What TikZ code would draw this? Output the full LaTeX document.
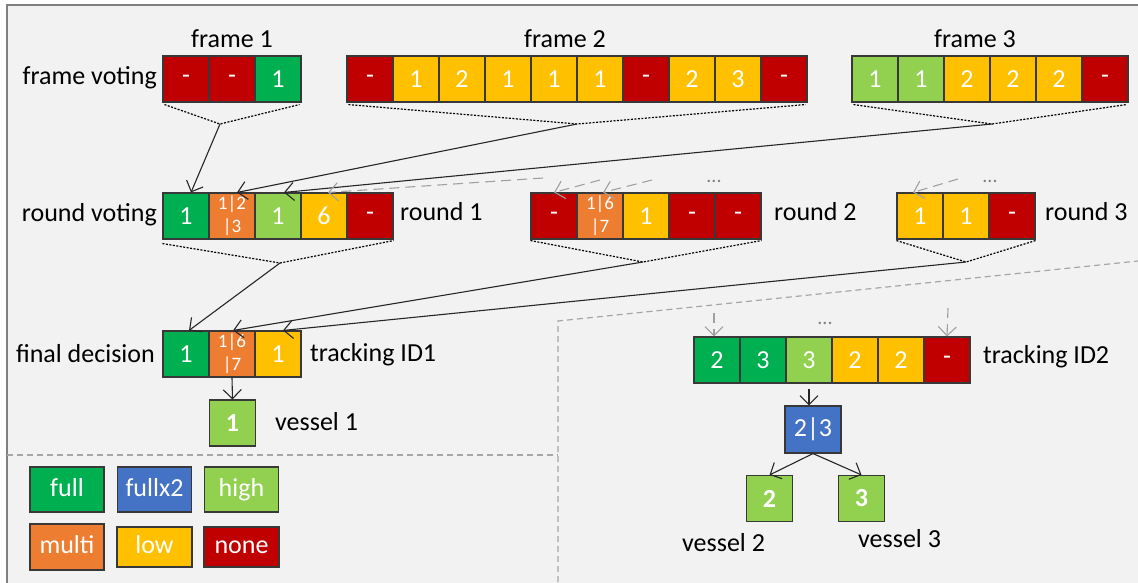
\documentclass[tikz,border=0pt]{standalone}
\usepackage{fontspec}
\setmainfont{Carlito}
\usetikzlibrary{arrows.meta,calc}
\definecolor{cfullc}{HTML}{00B050}
\definecolor{cfxc}{HTML}{4472C4}
\definecolor{chighc}{HTML}{92D050}
\definecolor{cmultic}{HTML}{ED7D31}
\definecolor{clowc}{HTML}{FFC000}
\definecolor{cnonec}{HTML}{C00000}
\definecolor{bgc}{HTML}{F2F2F2}
\definecolor{edgec}{HTML}{383838}
\definecolor{framec}{HTML}{808080}
\definecolor{linec}{HTML}{262626}
\definecolor{grayarr}{HTML}{A0A0A0}
\definecolor{sepc}{HTML}{A6A6A6}
\newcommand\mlt[2]{\fontsize{19}{23}\selectfont\begin{tabular}{@{}c@{}}#1\\#2\end{tabular}}
\begin{document}
\begin{tikzpicture}[x=1pt,y=-1pt,
  cell/.style={draw=edgec,line width=1.1pt,minimum width=46pt,minimum height=46pt,inner sep=0pt,text=white,font=\fontsize{26}{28}\selectfont},
  vcell/.style={cell,fill=chighc,font=\fontsize{26}{28}\selectfont\bfseries},
  legbox/.style={draw=edgec,line width=1.1pt,minimum width=74pt,minimum height=45pt,inner sep=0pt,text=white,font=\fontsize{26}{28}\selectfont,text height=18pt,text depth=5pt},
  lbl/.style={inner sep=0pt,text=black,font=\fontsize{26}{28}\selectfont},
  dotsl/.style={inner sep=0pt,text=gray,font=\fontsize{20}{22}\selectfont},
  arr/.style={draw=linec,line width=1.1pt,-{Straight Barb[length=9pt,width=18pt]}},
  garr/.style={draw=grayarr,line width=1.1pt,dash pattern=on 10pt off 6pt,-{Straight Barb[length=9pt,width=18pt]}},
  dotl/.style={draw=black,line width=1.2pt,dash pattern=on 2pt off 1.5pt},
  sepl/.style={draw=sepc,line width=1.2pt,dash pattern=on 6pt off 4pt}
]
\useasboundingbox (0,0) rectangle (1138,582);
\begin{scope}
\clip (0,0) rectangle (1138,582);
\fill[white] (0,0) rectangle (1138,582);
\draw[draw=framec,fill=bgc,line width=2pt] (7,5) rectangle (1170,620);
\end{scope}

% separators
\draw[sepl] (7,455) -- (558,455);
\draw[sepl] (558,582) -- (558,321) -- (1138,261);

% frame voting row
\node[lbl,anchor=base east] (lfv) at (157,84) {frame voting};
\node[lbl,anchor=base] (lf1) at (232,47) {frame 1};
\node[lbl,anchor=base] (lf2) at (565,47) {frame 2};
\node[lbl,anchor=base] (lf3) at (975,47) {frame 3};
\foreach \c/\t [count=\i] in {cnonec/-,cnonec/-,cfullc/1}
  \node[cell,fill=\c] (fone\i) at ({186+46*(\i-1)},79) {\t};
\foreach \c/\t [count=\i] in {cnonec/-,clowc/1,clowc/2,clowc/1,clowc/1,clowc/1,cnonec/-,clowc/2,clowc/3,cnonec/-}
  \node[cell,fill=\c] (ftwo\i) at ({370+46*(\i-1)},79) {\t};
\foreach \c/\t [count=\i] in {chighc/1,chighc/1,clowc/2,clowc/2,clowc/2,cnonec/-}
  \node[cell,fill=\c] (fthree\i) at ({875+46*(\i-1)},79) {\t};

% round voting row
\node[lbl,anchor=base east] (lrv) at (157,221) {round voting};
\node[lbl,anchor=base west] (lr1) at (400,220) {round 1};
\node[lbl,anchor=base west] (lr2) at (774,220) {round 2};
\node[lbl,anchor=base west] (lr3) at (1045,220) {round 3};
\foreach \c/\t [count=\i] in {cfullc/1,cmultic/\mlt{1|2}{|3},chighc/1,clowc/6,cnonec/-}
  \node[cell,fill=\c] (rone\i) at ({186+46*(\i-1)},216) {\t};
\foreach \c/\t [count=\i] in {cnonec/-,cmultic/\mlt{1|6}{|7},clowc/1,cnonec/-,cnonec/-}
  \node[cell,fill=\c] (rtwo\i) at ({554+46*(\i-1)},216) {\t};
\foreach \c/\t [count=\i] in {clowc/1,clowc/1,cnonec/-}
  \node[cell,fill=\c] (rthree\i) at ({920+46*(\i-1)},216) {\t};

% final decision row
\node[lbl,anchor=base east] (lfd) at (155,362) {final decision};
\node[lbl,anchor=base west] (lt1) at (310,361) {tracking ID1};
\foreach \c/\t [count=\i] in {cfullc/1,cmultic/\mlt{1|6}{|7},clowc/1}
  \node[cell,fill=\c] (fin\i) at ({186+46*(\i-1)},354) {\t};
\node[vcell] (v1) at (232.5,423) {1};
\node[lbl,anchor=base west] (lv1) at (275,430) {vessel 1};

% tracking ID2
\foreach \c/\t [count=\i] in {cfullc/2,cfullc/3,chighc/3,clowc/2,clowc/2,cnonec/-}
  \node[cell,fill=\c] (tid\i) at ({717+46*(\i-1)},360) {\t};
\node[lbl,anchor=base west] (lt2) at (983,363) {tracking ID2};
\node[cell,fill=cfxc,minimum width=56pt,minimum height=47pt] (bx) at (813,429.5) {2|3};
\node[vcell] (v2) at (769.5,498.5) {2};
\node[vcell] (v3) at (861.5,498.5) {3};
\node[lbl,anchor=base west] (lv2) at (682,551) {vessel 2};
\node[lbl,anchor=base west] (lv3) at (858,547) {vessel 3};

% legend
\node[legbox,fill=cfullc] (kfull) at (67,489.5) {full};
\node[legbox,fill=cfxc] (kfx) at (154.5,489.5) {fullx2};
\node[legbox,fill=chighc] (khigh) at (241.5,489.5) {high};
\node[legbox,fill=cmultic,minimum height=46pt] (kmulti) at (67,547) {multi};
\node[legbox,fill=clowc,minimum width=75pt,minimum height=40pt] (klow) at (154.5,547) {low};
\node[legbox,fill=cnonec,minimum width=75pt,minimum height=40pt] (knone) at (241.5,547) {none};

% frame -> round
\coordinate (fap1) at (220,124);
\coordinate (fap2) at (577,124);
\coordinate (fap3) at (992,124);
\draw[dotl] ($(fone1.south west)+(2,2)$) -- (fap1) -- ($(fone3.south east)+(-2,2)$);
\draw[dotl] ($(ftwo1.south west)+(2,2)$) -- (fap2) -- ($(ftwo10.south east)+(-2,2)$);
\draw[dotl] ($(fthree1.south west)+(2,2)$) -- (fap3) -- ($(fthree6.south east)+(-2,2)$);
\draw[arr] (fap1) -- ($(rone1.north)+(5,0)$);
\draw[arr] (fap2) -- ($(rone2.north)+(5,0)$);
\draw[arr] (fap3) -- ($(rone3.north)+(6,0)$);

% gray arrows from other frames
\coordinate (g1) at (543,178);
\coordinate (g2) at (600,180);
\coordinate (g3) at (652,180);
\coordinate (g4) at (958,179);
\draw[garr] (g1) -- ($(rone4.north)+(4,0)$);
\draw[garr] (g2) -- (rtwo1.north);
\draw[garr] (g3) -- ($(rtwo2.north)+(3,0)$);
\draw[garr] (g4) -- ($(rthree1.north)+(-7,0)$);
\node[dotsl] (d1) at (714,181) {...};
\node[dotsl] (d2) at (990,181) {...};

% round -> final
\coordinate (rap1) at (280,263);
\coordinate (rap2) at (643,262);
\coordinate (rap3) at (966,262);
\draw[dotl] ($(rone1.south west)+(0,4)$) -- (rap1) -- ($(rone5.south east)+(0,1)$);
\draw[dotl] ($(rtwo1.south west)+(0,1)$) -- (rap2) -- ($(rtwo5.south east)+(0,1)$);
\draw[dotl] ($(rthree1.south west)+(0,1)$) -- (rap3) -- ($(rthree3.south east)+(0,1)$);
\draw[arr] (rap1) -- ($(fin1.north)+(3,0)$);
\draw[arr] (rap2) -- ($(fin2.north)+(1,0)$);
\draw[arr] (rap3) -- ($(fin3.north)+(5,0)$);
\draw[arr] (fin2.south) -- (v1.north);

% tracking ID2 arrows
\coordinate (g5) at (714,313);
\coordinate (g6) at (948,308);
\draw[garr] (g5) -- ($(tid1.north)+(-3,0)$);
\draw[garr] (g6) -- (tid6.north);
\node[dotsl] (d3) at (825,323) {...};
\draw[arr] ($(tid3.south)+(0,5)$) -- (tid3.south |- bx.north);
\draw[arr] (bx.south) -- (v2.north);
\draw[arr] (bx.south) -- (v3.north);
\end{tikzpicture}
\end{document}
